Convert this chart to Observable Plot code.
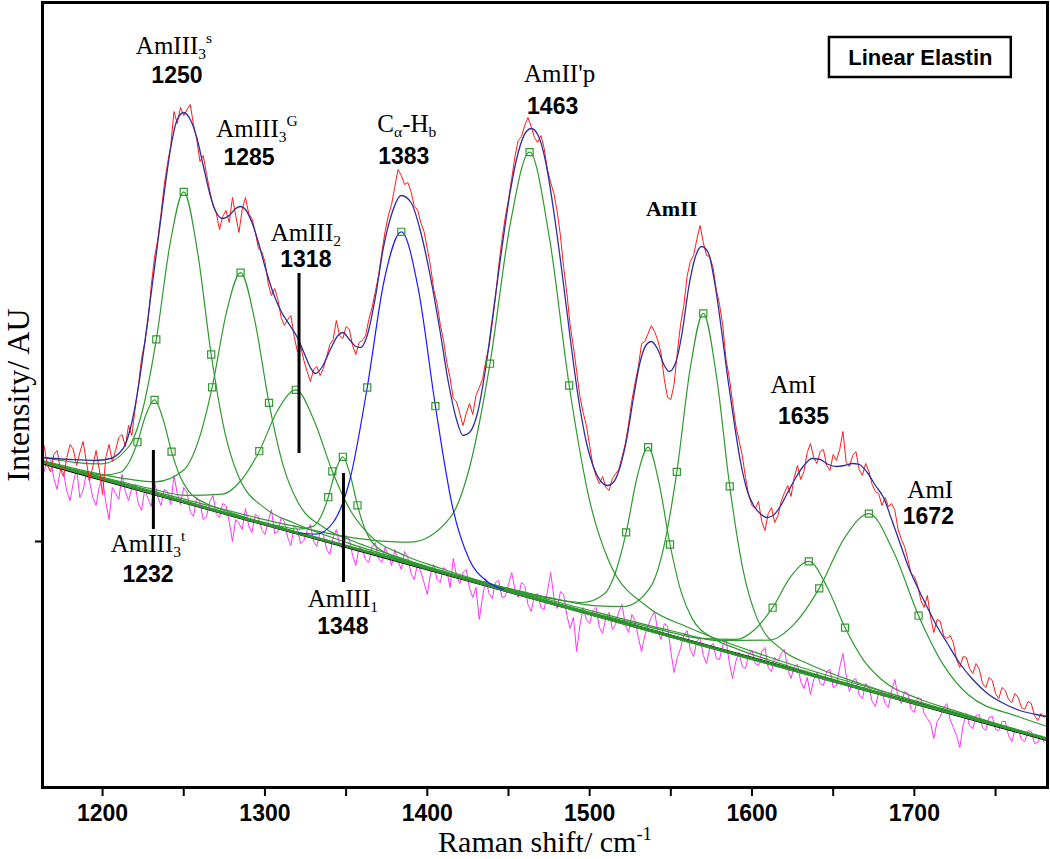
<!DOCTYPE html>
<html><head><meta charset="utf-8">
<script src="https://cdn.jsdelivr.net/npm/d3@7"></script>
<script src="https://cdn.jsdelivr.net/npm/@observablehq/plot@0.6"></script>
<style>html,body{margin:0;padding:0;background:#fff}svg{display:block}</style>
</head><body><div id="chart"></div>
<script>
// ---- Data (Raman shift in cm-1, intensity in arbitrary units) ----
const specStart = 1164, specStep = 2;
const spectrum = [342,322,316,333,337,318,311,330,343,338,322,335,346,326,307,321,337,318,293,330,
343,326,337,350,353,341,362,352,378,401,429,445,467,502,530,548,574,603,624,642,
676,664,680,672,678,683,663,648,626,632,614,597,582,575,558,571,577,565,590,572,
555,578,590,574,569,556,539,536,526,504,492,499,488,470,462,468,472,451,436,441,
427,416,406,418,421,412,419,431,443,448,467,452,449,461,458,442,433,445,447,452,
468,480,496,512,535,556,572,583,601,618,612,603,605,596,581,578,565,556,539,521,
498,484,463,447,425,410,389,386,374,362,374,384,373,392,400,408,426,441,464,490,
522,548,570,588,609,631,647,651,662,670,661,650,645,652,639,618,605,594,576,552,
520,494,462,441,416,391,375,362,342,322,311,304,311,300,297,309,314,318,331,344,
364,387,405,421,444,446,454,462,456,447,434,408,390,388,403,435,463,482,511,526,
532,548,562,545,532,531,520,498,483,462,428,410,386,362,347,332,310,292,282,279,
286,266,257,274,280,265,272,286,295,302,291,310,322,308,316,335,344,330,324,336,
338,322,317,333,327,338,356,325,321,332,336,318,312,324,316,303,296,294,282,290,
281,284,277,258,248,241,228,214,211,202,187,180,192,170,155,168,166,152,149,152,
145,128,120,131,130,119,114,124,118,104,100,110,107,94,89,100,97,88,85,94,
90,80,78,86,84,72,67,74,70];
const residual = [316,330,328,309,298,318,315,296,287,305,319,290,297,314,306,290,282,301,310,285,
268,300,294,288,313,296,287,299,303,284,277,298,289,281,306,290,282,298,296,283,
312,294,283,300,295,276,271,290,285,268,271,286,292,274,270,284,282,266,246,268,
264,258,279,262,255,273,271,258,253,266,278,254,256,270,266,250,242,262,258,244,
247,257,263,246,241,256,253,238,233,250,258,243,238,252,248,232,222,240,238,228,
225,241,245,229,225,240,233,222,238,226,218,236,230,214,208,224,216,205,193,214,
223,208,205,220,217,200,229,212,204,215,218,199,190,200,168,190,209,194,189,205,
207,190,191,203,215,198,190,205,202,183,176,192,194,180,178,196,215,190,179,196,
193,172,159,170,136,162,180,168,164,177,180,160,154,170,175,158,163,176,183,162,
155,173,167,150,136,152,162,170,176,156,148,164,161,136,115,130,139,152,157,138,
131,146,150,132,124,140,144,129,128,142,148,125,109,126,135,121,119,133,137,124,
122,136,140,120,116,130,126,134,138,118,109,121,123,106,99,110,93,108,115,104,
102,116,118,100,102,120,134,112,96,107,109,92,89,104,101,86,81,95,96,84,
80,97,108,90,84,96,94,78,75,90,89,74,69,64,49,66,71,80,84,68,
60,52,40,62,74,62,59,72,73,60,57,70,71,58,57,66,66,52,46,58,
58,48,46,57,56,44,45,52,45];
const fitW = [1163,1180,1195,1205,1210,1214,1218,1222,1226,1230,1234,1238,1242,1246,1250,1254,1258,1262,1266,1270,1274,1278,1282,1285,1288,1292,1296,1300,1305,1310,1315,1320,1324,1328,1331,1335,1340,1345,1348,1352,1356,1359,1363,1368,1373,1378,1384,1390,1396,1402,1408,1413,1418,1422,1426,1431,1436,1441,1446,1451,1456,1461,1464,1468,1473,1478,1483,1488,1493,1498,1503,1507,1511,1515,1519,1523,1527,1531,1535,1538,1542,1546,1549,1553,1557,1561,1565,1569,1573,1577,1581,1585,1589,1593,1597,1601,1605,1609,1613,1617,1622,1627,1632,1637,1642,1647,1652,1657,1662,1666,1671,1676,1681,1686,1691,1696,1702,1708,1714,1720,1728,1736,1745,1755,1765,1775,1782];
const fitI = [330,328,327,329,334,343,365,400,445,495,545,595,640,668,675,668,650,622,594,575,569,572,579,581,578,565,545,521,495,476,463,450,435,420,414,420,437,452,455,448,441,440,452,490,540,573,592,585,555,510,455,405,368,352,355,375,420,480,540,595,635,656,659,653,625,575,515,450,390,345,318,306,302,306,322,350,390,425,443,446,438,422,416,425,455,500,530,541,535,505,460,410,365,325,297,282,274,270,272,280,295,310,322,329,328,323,321,322,324,323,315,302,290,268,245,222,200,180,161,145,124,108,94,84,77,73,71];
const baseline = [[1163,324.4],[1782,47.8]];
// fitted band components (baseline included)
const g1232 = [[1163,325.5],[1190,315.2],[1200.5,312.4],[1211,315.2],[1216.25,325.0],[1221.5,345.3],[1226.75,373.0],[1232,387.6],[1237.25,368.4],[1242.5,335.9],[1247.75,311.0],[1253,296.4],[1263.5,284.2],[1274,277.7],[1295,266.7],[1326.5,252.0],[1782,47.9]];
const g1250 = [[1163,330.0],[1182.4,325.2],[1199.3,323.7],[1216.2,341.0],[1224.65,377.5],[1233.1,448.1],[1241.55,543.5],[1250,595.6],[1258.45,536.0],[1266.9,433.0],[1275.35,354.9],[1283.8,310.8],[1300.7,278.4],[1317.6,264.7],[1351.4,244.4],[1402.1,219.5],[1782,48.3]];
const g1285 = [[1163,326.9],[1180,320.1],[1215,308.6],[1232.5,305.7],[1250,317.5],[1258.75,345.4],[1267.5,400.2],[1276.25,474.7],[1285,514.9],[1293.75,466.9],[1302.5,384.6],[1311.25,321.9],[1320,286.2],[1337.5,258.8],[1355,246.0],[1390,226.3],[1442.5,201.0],[1782,48.2]];
const g1318 = [[1163,325.9],[1184,317.0],[1229,299.2],[1251.5,292.1],[1274,293.4],[1285.25,307.0],[1296.5,336.3],[1307.75,377.0],[1319,397.7],[1330.25,367.0],[1341.5,316.2],[1352.75,276.8],[1364,253.2],[1386.5,231.8],[1409,218.8],[1454,196.3],[1521.5,165.1],[1782,48.0]];
const g1348 = [[1163,324.9],[1267,278.5],[1294,267.1],[1312,260.5],[1321,258.3],[1330,261.4],[1334.5,270.9],[1339,290.3],[1343.5,316.8],[1348,330.7],[1352.5,312.7],[1357,282.2],[1361.5,258.8],[1366,245.3],[1375,234.2],[1384,228.4],[1402,218.8],[1429,206.1],[1782,47.9]];
const b1383 = [[1321,254.5],[1331.5,253.4],[1342,265.0],[1352.5,309.0],[1363,400.0],[1373.5,507.5],[1384,555.7],[1394.5,498.2],[1405,381.3],[1415.5,280.9],[1426,227.5],[1436.5,206.5],[1447,198.2]];
const g1463 = [[1163,326.2],[1243.4,291.2],[1316.6,261.8],[1365.4,247.4],[1389.8,245.4],[1414.2,270.1],[1426.4,322.5],[1438.6,423.8],[1450.8,560.8],[1463,635.4],[1475.2,549.9],[1487.4,402.0],[1499.6,289.7],[1511.8,226.5],[1536.2,180.0],[1560.6,160.2],[1609.4,131.0],[1682.6,95.0],[1782,49.4]];
const g1537 = [[1163,324.9],[1414.5,213.1],[1455,196.5],[1482,187.4],[1495.5,185.0],[1509,193.5],[1515.75,214.3],[1522.5,255.1],[1529.25,310.5],[1536,340.3],[1542.75,304.4],[1549.5,243.0],[1556.25,196.2],[1563,169.4],[1576.5,148.8],[1590,139.1],[1617,124.1],[1657.5,104.6],[1782,48.1]];
const g1569 = [[1163,325.2],[1423.3,210.2],[1472.2,190.8],[1504.8,181.6],[1521.1,181.0],[1537.4,200.3],[1545.55,239.7],[1553.7,315.6],[1561.85,418.1],[1570,474.1],[1578.15,410.8],[1586.3,301.1],[1594.45,217.8],[1602.6,171.1],[1618.9,137.3],[1635.2,123.3],[1667.8,103.3],[1716.7,79.0],[1782,49.0]];
const g1635 = [[1163,324.7],[1434.3,204.0],[1501.2,174.9],[1545.8,156.9],[1568.1,149.1],[1590.4,148.1],[1601.55,157.8],[1612.7,179.8],[1623.85,210.9],[1635,226.1],[1646.15,200.8],[1657.3,159.9],[1668.45,127.9],[1679.6,108.2],[1701.9,89.2],[1724.2,77.1],[1768.8,55.2],[1782,49.1]];
const g1672 = [[1163,325.0],[1396.6,221.7],[1488.4,182.0],[1549.6,157.0],[1580.2,146.9],[1610.8,147.4],[1626.1,163.6],[1641.4,199.1],[1656.7,248.9],[1672,273.9],[1687.3,235.2],[1702.6,171.8],[1717.9,122.6],[1733.2,92.7],[1763.8,71.0],[1782,61.0]];
const bandMarkers = [[1221.5,345.3],[1232,387.6],[1242.5,335.9],[1233.1,448.1],[1250,595.6],[1266.9,433.0],
[1267.5,400.2],[1285,514.9],[1302.5,384.6],[1296.5,336.3],[1319,397.7],[1341.5,316.2],
[1339,290.3],[1348,330.7],[1357,282.2],[1363,400.0],[1384,555.7],[1405,381.3],
[1438.6,423.8],[1463,635.4],[1487.4,402.0],[1522.5,255.1],[1536,340.3],[1549.5,243.0],
[1553.7,315.6],[1570,474.1],[1586.3,301.1],[1612.7,179.8],[1635,226.1],[1657.3,159.9],
[1641.4,199.1],[1672,273.9],[1702.6,171.8]];
// annotations
const bandNames = ["AmIII_3^s","AmIII_3^G","AmIII_2","C_α-H_b","AmII'p","AmI","AmI","AmIII_3^t","AmIII_1"];
const bandNameAt = [[1244,742],[1295.1,659],[1325.2,555],[1387.4,664],[1481.5,714],[1625.5,403],[1709.8,298],[1228,244],[1348,189]];
const bandNumbers = ["1250","1285","1318","1383","1463","1635","1672","1232","1348"];
const bandNumberAt = [[1245.8,712],[1290.2,630],[1325.2,528],[1385.5,631],[1477.2,681],[1631.7,371],[1708.6,271],[1228,213],[1348,161]];
const groupName = ["AmII"], groupAt = [[1550.5,579]];
const pointerW = [1231.3,1321,1348.4], pointerTop = [337,514,314], pointerBottom = [258,334,205];
const xMajor = [1200,1300,1400,1500,1600,1700];
const xMinor = [1250,1350,1450,1550,1650,1750];
const yTicks = [246];
const sampleName = "Linear Elastin";

// ---- build tables ----
const specW = spectrum.map((_, i) => specStart + i * specStep);
const specData = spectrum.map((v, i) => ({w: specW[i], I: v}));
const resData = residual.map((v, i) => ({w: specW[i], I: v}));
const fitData = fitW.map((w, i) => ({w, I: fitI[i]}));
const greens = [["1232",g1232],["1250",g1250],["1285",g1285],["1318",g1318],["1348",g1348],["1463",g1463],["1537",g1537],["1569",g1569],["1635",g1635],["1672",g1672]]
  .flatMap(([id, pts]) => pts.map(([w, I]) => ({id, w, I})));
const pointers = pointerW.map((w, i) => ({w, top: pointerTop[i], bottom: pointerBottom[i]}));
const names = bandNames.map((t, i) => ({t, w: bandNameAt[i][0], I: bandNameAt[i][1]}));
const nums = bandNumbers.map((t, i) => ({t, w: bandNumberAt[i][0], I: bandNumberAt[i][1]}));
const group = groupName.map((t, i) => ({t, w: groupAt[i][0], I: groupAt[i][1]}));

const SERIF = "'Liberation Serif','Times New Roman',Times,serif";
const SANS = "'Liberation Sans',Arial,Helvetica,sans-serif";
const GREEN = "#2f9a2f";

const chart = Plot.plot({
  width: 1050, height: 859,
  marginLeft: 42, marginRight: 3, marginTop: 2, marginBottom: 72,
  x: {domain: [1163, 1782]},
  y: {domain: [0, 785]},
  style: {fontFamily: SANS, background: "#fff", overflow: "visible"},
  marks: [
    Plot.line(resData, {x: "w", y: "I", stroke: "#ff33ff", strokeWidth: 1}),
    Plot.line(baseline, {stroke: "#000", strokeWidth: 3}),
    Plot.line(greens, {x: "w", y: "I", z: "id", stroke: GREEN, strokeWidth: 1.2, curve: "monotone-x"}),
    Plot.line(b1383, {stroke: "#1a1aff", strokeWidth: 1.2, curve: "monotone-x"}),
    Plot.line(specData, {x: "w", y: "I", stroke: "#ff1a1a", strokeWidth: 1}),
    Plot.line(fitData, {x: "w", y: "I", stroke: "#2e2e9c", strokeWidth: 1.3, curve: "monotone-x"}),
    Plot.dot(bandMarkers, {symbol: "square", r: 4, stroke: GREEN, strokeWidth: 1.2, fill: "none"}),
    Plot.ruleX(pointers, {x: "w", y1: "bottom", y2: "top", stroke: "#000", strokeWidth: 3}),
    Plot.text(names, {x: "w", y: "I", text: "t", fontFamily: SERIF, fontSize: 25}),
    Plot.text(nums, {x: "w", y: "I", text: "t", fontFamily: SANS, fontWeight: "bold", fontSize: 23}),
    Plot.text(group, {x: "w", y: "I", text: "t", fontFamily: SERIF, fontWeight: "bold", fontSize: 22}),
    Plot.rect([sampleName], {x1: 1647.7, x2: 1759.7, y1: 710, y2: 750, fill: "#fff", stroke: "#000", strokeWidth: 2.5}),
    Plot.text([sampleName], {x: 1703.7, y: 730, text: d => d, fontFamily: SANS, fontWeight: "bold", fontSize: 22}),
    Plot.frame({stroke: "#000", strokeWidth: 3}),
    Plot.axisX({ticks: xMajor, tickSize: 9, tickPadding: 8, strokeWidth: 2, fontSize: 23, fontWeight: "bold", tickFormat: d => String(d), label: null}),
    Plot.axisX({ticks: xMinor, tickSize: 9, strokeWidth: 2, tickFormat: () => "", label: null}),
    Plot.axisY({ticks: yTicks, tickSize: 7, strokeWidth: 2, tickFormat: () => "", label: null}),
    Plot.text(["Raman shift/ cm^{-1}"], {frameAnchor: "bottom", dy: 55, lineAnchor: "middle", textAnchor: "middle", text: d => d, fontFamily: SERIF, fontSize: 30}),
    Plot.text(["Intensity/ AU"], {frameAnchor: "left", dx: -24, rotate: -90, lineAnchor: "middle", textAnchor: "middle", text: d => d, fontFamily: SERIF, fontSize: 32})
  ]
});
document.getElementById("chart").appendChild(chart);

// sub/superscripts: "_x" subscript, "^x" or "^{..}" superscript
chart.querySelectorAll("text").forEach(el => {
  const s = el.textContent;
  if (!/[_^]/.test(s)) return;
  const fs = parseFloat(getComputedStyle(el).fontSize) || 24;
  const parts = s.split(/([_^](?:\{[^}]*\}|.))/).filter(p => p !== "");
  while (el.firstChild) el.removeChild(el.firstChild);
  let shift = 0;
  for (const p of parts) {
    let kind = 0, t = p;
    if (p[0] === "_" || p[0] === "^") { kind = p[0] === "_" ? 1 : -1; t = p.slice(1).replace(/^\{|\}$/g, ""); }
    const target = kind === 1 ? 0.22 * fs : kind === -1 ? -0.42 * fs : 0;
    const ts = document.createElementNS("http://www.w3.org/2000/svg", "tspan");
    ts.textContent = t;
    ts.setAttribute("dy", (target - shift).toFixed(1));
    if (kind) ts.setAttribute("font-size", (fs * 0.62).toFixed(1));
    el.appendChild(ts);
    shift = target;
  }
});
</script>
</body></html>
